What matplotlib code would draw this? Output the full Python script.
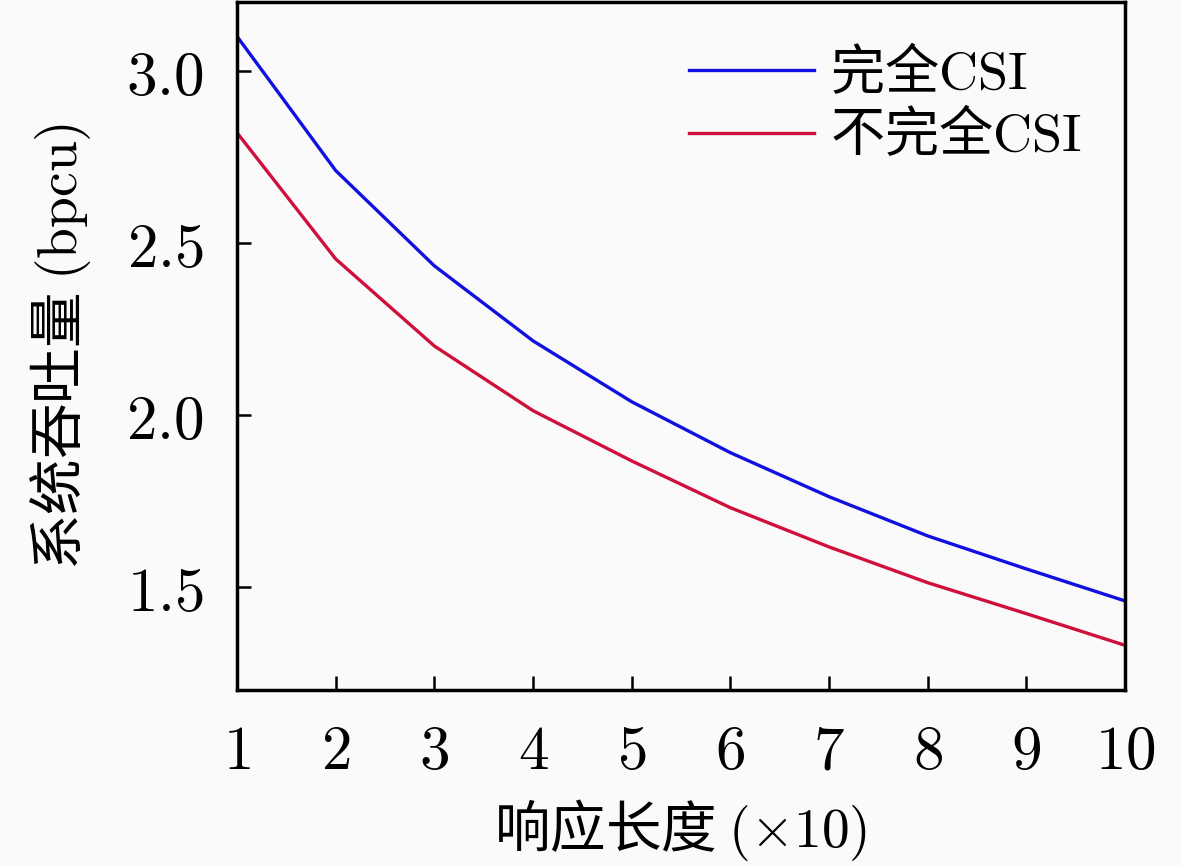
import matplotlib
matplotlib.use('Agg')
import matplotlib.pyplot as plt

plt.rcParams['font.family'] = ['Noto Sans CJK SC', 'DejaVu Sans']
plt.rcParams['mathtext.fontset'] = 'cm'

# data
x = [1, 2, 3, 4, 5, 6, 7, 8, 9, 10]
perfect_csi = [3.10, 2.71, 2.433, 2.215, 2.038, 1.890, 1.762, 1.648, 1.552, 1.459]
imperfect_csi = [2.82, 2.453, 2.200, 2.012, 1.866, 1.730, 1.616, 1.512, 1.422, 1.330]
yticks = [1.5, 2.0, 2.5, 3.0]
series_labels = ['完全$\\mathrm{CSI}$', '不完全$\\mathrm{CSI}$']

fig = plt.figure(figsize=(11.81, 8.66), dpi=100)
fig.patch.set_facecolor('#fafafa')
ax = fig.add_axes([0.2007, 0.2032, 0.7519, 0.7945])
ax.set_facecolor('#fafafa')

ax.plot(x, perfect_csi, color='#1010e0', lw=2.4, label=series_labels[0])
ax.plot(x, imperfect_csi, color='#d0103c', lw=2.4, label=series_labels[1])

ax.set_xlim(1, 10)
ax.set_ylim(1.2, 3.2)
ax.set_xticks(x)
ax.set_xticklabels([f'${v}$' for v in x])
ax.set_yticks(yticks)
ax.set_yticklabels([f'${v:.1f}$' for v in yticks])
ax.tick_params(direction='in', length=10, width=1.8, labelsize=44, pad=22)
ax.tick_params(axis='y', pad=24)

for s in ax.spines.values():
    s.set_linewidth(2.5)

ax.set_xlabel('响应长度 $(\\times10)$', fontsize=40, labelpad=10)
ax.set_ylabel('系统吞吐量 $(\\mathrm{bpcu})$', fontsize=40, labelpad=24)

leg = ax.legend(loc='upper right', frameon=False, fontsize=39,
                handlelength=2.3, handletextpad=0.3, labelspacing=0.12,
                borderaxespad=0.5, borderpad=0.3)

fig.savefig('out.png', dpi=100, facecolor=fig.get_facecolor())
